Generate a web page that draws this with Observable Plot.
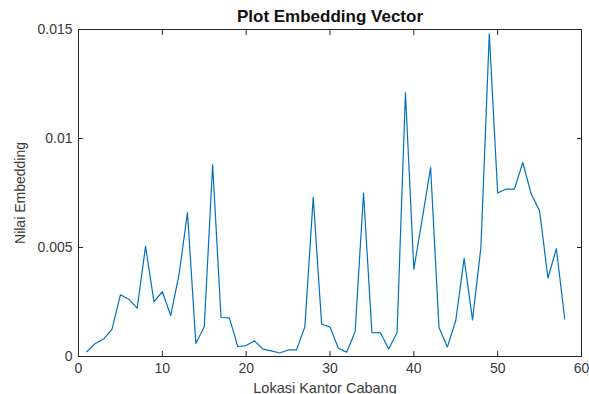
<!DOCTYPE html>
<html>
<head>
<meta charset="utf-8">
<script src="https://cdn.jsdelivr.net/npm/d3@7"></script>
<script src="https://cdn.jsdelivr.net/npm/@observablehq/plot@0.6"></script>
<style>
  html, body { margin: 0; padding: 0; background: #fff; }
</style>
</head>
<body>
<div id="chart"></div>
<script>
const title = "Plot Embedding Vector";
const xLabel = "Lokasi Kantor Cabang";
const yLabel = "Nilai Embedding";

const lokasi = d3.range(1, 59);
const embedding = [
  0.00022, 0.0006, 0.0008, 0.00126, 0.00283, 0.00263, 0.00222, 0.00505, 0.00252, 0.00297,
  0.00188, 0.00378, 0.0066, 0.0006, 0.00136, 0.0088, 0.00179, 0.00177, 0.00046, 0.0005,
  0.00072, 0.00034, 0.00026, 0.00016, 0.0003, 0.0003, 0.00136, 0.0073, 0.00149, 0.00135,
  0.00038, 0.0002, 0.00115, 0.0075, 0.00109, 0.0011, 0.00034, 0.0011, 0.0121, 0.0040,
  0.0063, 0.00867, 0.00133, 0.00044, 0.00164, 0.0045, 0.00168, 0.005, 0.0148, 0.0075,
  0.00768, 0.00768, 0.0089, 0.00745, 0.00668, 0.0036, 0.00495, 0.00172
];

const xTicks = [0, 10, 20, 30, 40, 50, 60];
const yTicks = [0, 0.005, 0.01, 0.015];

const data = lokasi.map((x, i) => ({x, y: embedding[i]}));

const axisColor = "#262626";
const textColor = "#3a3a3a";
const none = () => "";

const chart = Plot.plot({
  width: 589,
  height: 394,
  marginLeft: 78,
  marginRight: 8,
  marginTop: 29,
  marginBottom: 38,
  style: {fontFamily: "'Liberation Sans', Arial, sans-serif", fontSize: "14px", background: "#fff"},
  x: {domain: [0, 60], axis: null},
  y: {domain: [0, 0.015], axis: null},
  marks: [
    Plot.line(data, {x: "x", y: "y", stroke: "#0072BD", strokeWidth: 1.2}),
    Plot.frame({stroke: axisColor, strokeWidth: 1}),
    Plot.axisX(xTicks, {anchor: "bottom", tickSize: 5, dy: -5, tickFormat: none, label: null, stroke: axisColor}),
    Plot.axisX(xTicks, {anchor: "top", tickSize: 5, dy: 5, tickFormat: none, label: null, stroke: axisColor}),
    Plot.axisY(yTicks, {anchor: "left", tickSize: 5, dx: 5, tickFormat: none, label: null, stroke: axisColor}),
    Plot.axisY(yTicks, {anchor: "right", tickSize: 5, dx: -5, tickFormat: none, label: null, stroke: axisColor}),
    Plot.axisX(xTicks, {anchor: "bottom", tickSize: 0, tickPadding: 7, label: null, fill: textColor, fontSize: 14, tickFormat: d => String(d)}),
    Plot.axisY(yTicks, {anchor: "left", tickSize: 0, tickPadding: 6, label: null, fill: textColor, fontSize: 14, tickFormat: d => String(d)}),
    Plot.text([title], {frameAnchor: "top", lineAnchor: "middle", dy: -13, text: d => d, fontWeight: "bold", fontSize: 17, fill: "#111"}),
    Plot.text([xLabel], {frameAnchor: "bottom", lineAnchor: "bottom", dy: 36, dx: -5, text: d => d, fontSize: 14.5, fill: textColor}),
    Plot.text([yLabel], {frameAnchor: "left", textAnchor: "middle", lineAnchor: "middle", dx: -58, rotate: -90, text: d => d, fontSize: 14, fill: textColor})
  ]
});

document.getElementById("chart").appendChild(chart);
</script>
</body>
</html>
